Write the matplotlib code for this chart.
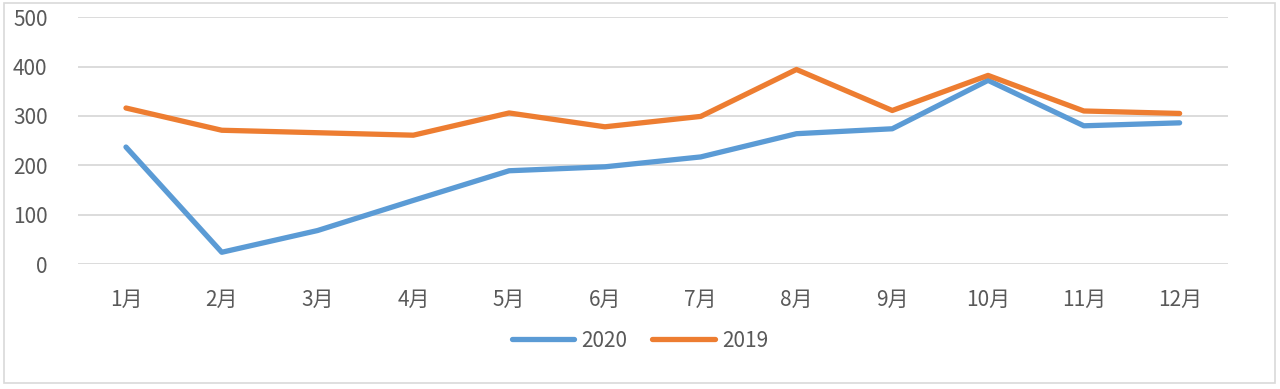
import matplotlib
matplotlib.use("Agg")
import matplotlib.pyplot as plt
from matplotlib.patches import Rectangle

plt.rcParams['font.family'] = ['Noto Sans CJK SC', 'DejaVu Sans']

months = ["1月", "2月", "3月", "4月", "5月", "6月", "7月", "8月", "9月", "10月", "11月", "12月"]
series_2020 = [237, 24, 68, 129, 189, 197, 217, 264, 274, 372, 280, 286]
series_2019 = [316, 271, 266, 261, 306, 278, 299, 394, 311, 382, 310, 305]
yticks = [0, 100, 200, 300, 400, 500]

text_color = "#595959"
grid_color = "#D9D9D9"
blue = "#5B9BD5"
orange = "#ED7D31"

fig = plt.figure(figsize=(12.8, 3.89), dpi=100)
ax = fig.add_axes([0.061, 0.321, 0.898, 0.635])

x = list(range(len(months)))
ax.plot(x, series_2020, color=blue, lw=3.8, label="2020", solid_capstyle="round", solid_joinstyle="round")
ax.plot(x, series_2019, color=orange, lw=3.8, label="2019", solid_capstyle="round", solid_joinstyle="round")

ax.set_xlim(-0.5, len(months) - 0.5)
ax.set_ylim(0, 500)
ax.set_yticks(yticks)
ax.set_xticks(x)
ax.set_xticklabels(months)
ax.yaxis.grid(True, color=grid_color, lw=1.3)
ax.set_axisbelow(True)
for s in ax.spines.values():
    s.set_visible(False)
ax.tick_params(axis='both', length=0, labelsize=15, colors=text_color)
ax.tick_params(axis='y', pad=22)
ax.tick_params(axis='x', pad=18)

leg = fig.legend(loc="center", bbox_to_anchor=(0.5, 0.124), ncol=2, frameon=False,
                 fontsize=15, handlelength=3.0, columnspacing=1.2, handletextpad=0.35)
for t in leg.get_texts():
    t.set_color(text_color)

fig.patches.append(Rectangle((0.003, 0.015), 0.993, 0.978, transform=fig.transFigure,
                             fill=False, edgecolor="#D9D9D9", lw=1.2))

fig.savefig("out.png", dpi=100)
